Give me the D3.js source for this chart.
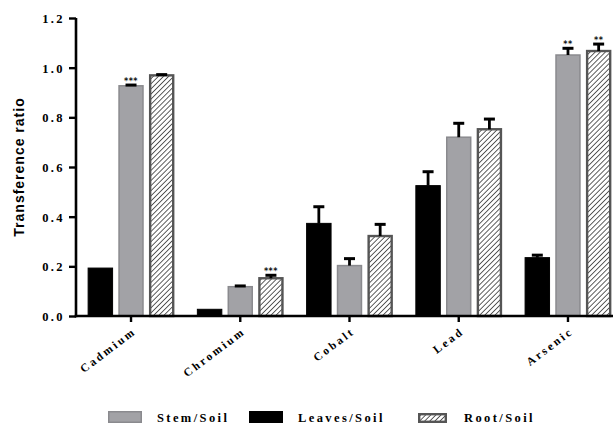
<!DOCTYPE html>
<html>
<head>
<meta charset="utf-8">
<script src="https://cdn.jsdelivr.net/npm/d3@7"></script>
<style>
  html, body { margin: 0; padding: 0; background: #fff; }
  svg { display: block; }
</style>
</head>
<body>
<svg id="chart" width="613" height="425"></svg>
<script>
// Transference ratios of metals (plant part / soil), mean with upward SEM
const categories = ["Cadmium", "Chromium", "Cobalt", "Lead", "Arsenic"];
const series = ["Leaves/Soil", "Stem/Soil", "Root/Soil"];
const legendOrder = ["Stem/Soil", "Leaves/Soil", "Root/Soil"];

const leavesValues = [0.193, 0.027, 0.373, 0.525, 0.235];
const stemValues   = [0.927, 0.118, 0.203, 0.720, 1.051];
const rootValues   = [0.969, 0.152, 0.322, 0.752, 1.067];

const leavesErrors = [0.000, 0.000, 0.067, 0.056, 0.010];
const stemErrors   = [0.003, 0.003, 0.028, 0.056, 0.027];
const rootErrors   = [0.003, 0.012, 0.047, 0.041, 0.028];

// significance marks per series, per category
const leavesStars = ["", "", "", "", ""];
const stemStars   = ["***", "", "", "", "**"];
const rootStars   = ["", "***", "", "", "**"];

const yTicks = [0, 0.2, 0.4, 0.6, 0.8, 1.0, 1.2];
const yTitle = "Transference ratio";

const valuesBySeries = {"Leaves/Soil": leavesValues, "Stem/Soil": stemValues, "Root/Soil": rootValues};
const errorsBySeries = {"Leaves/Soil": leavesErrors, "Stem/Soil": stemErrors, "Root/Soil": rootErrors};
const starsBySeries  = {"Leaves/Soil": leavesStars, "Stem/Soil": stemStars, "Root/Soil": rootStars};

const rows = [];
categories.forEach((c, i) => {
  series.forEach(s => {
    rows.push({cat: c, series: s, value: valuesBySeries[s][i], err: errorsBySeries[s][i], stars: starsBySeries[s][i]});
  });
});

const svg = d3.select("#chart");
const axisX0 = 76, axisY0 = 316;

const y = d3.scaleLinear().domain([0, 1.2]).range([axisY0, 18]);
const x = d3.scaleBand().domain(categories).range([axisX0 + 0.4, 622.6]).padding(0);
const xs = d3.scaleBand().domain(series).range([-46, 46]).paddingInner(0.17).paddingOuter(0.085);

// hatch pattern for the root series
const defs = svg.append("defs");
const pat = defs.append("pattern")
  .attr("id", "hatch")
  .attr("patternUnits", "userSpaceOnUse")
  .attr("width", 3.6).attr("height", 3.6)
  .attr("patternTransform", "rotate(45)");
pat.append("rect").attr("width", 3.6).attr("height", 3.6).attr("fill", "#fff");
pat.append("line").attr("x1", 0).attr("y1", 0).attr("x2", 0).attr("y2", 3.6)
  .attr("stroke", "#2a2a2a").attr("stroke-width", 1.5);

const styles = {
  "Leaves/Soil": {fill: "#000", stroke: "#000", sw: 1},
  "Stem/Soil":   {fill: "#a2a2a6", stroke: "#8a8a8e", sw: 1.5},
  "Root/Soil":   {fill: "url(#hatch)", stroke: "#555", sw: 2.4}
};

const serif = "'Liberation Serif', 'Times New Roman', serif";

// bars
const barW = xs.bandwidth();
const bars = svg.append("g");
bars.selectAll("rect").data(rows).join("rect")
  .attr("x", d => x(d.cat) + x.bandwidth() / 2 + xs(d.series) + styles[d.series].sw / 2)
  .attr("y", d => y(d.value))
  .attr("width", d => barW - styles[d.series].sw)
  .attr("height", d => y(0) - y(d.value))
  .attr("fill", d => styles[d.series].fill)
  .attr("stroke", d => styles[d.series].stroke)
  .attr("stroke-width", d => styles[d.series].sw);

// error bars (upper only)
const errG = svg.append("g").attr("stroke", "#000");
const withErr = rows.filter(d => d.err > 0);
const cx = d => x(d.cat) + x.bandwidth() / 2 + xs(d.series) + barW / 2;
errG.selectAll("line.v").data(withErr).join("line").attr("class", "v")
  .attr("x1", cx).attr("x2", cx)
  .attr("y1", d => y(d.value)).attr("y2", d => y(d.value + d.err))
  .attr("stroke-width", 2.8);
errG.selectAll("line.c").data(withErr).join("line").attr("class", "c")
  .attr("x1", d => cx(d) - 5.5).attr("x2", d => cx(d) + 5.5)
  .attr("y1", d => y(d.value + d.err)).attr("y2", d => y(d.value + d.err))
  .attr("stroke-width", 3);

// significance stars
svg.append("g").selectAll("text").data(rows.filter(d => d.stars)).join("text")
  .attr("x", cx)
  .attr("y", d => y(d.value + d.err) - 1.5)
  .attr("text-anchor", "middle")
  .attr("font-family", "DejaVu Sans, sans-serif")
  .attr("font-weight", "bold")
  .attr("font-size", 8)
  .attr("letter-spacing", 0.5)
  .attr("fill", "#111")
  .text(d => d.stars);

// y axis
const yAxis = d3.axisLeft(y).tickValues(yTicks).tickFormat(d3.format(".1f")).tickSize(7).tickPadding(4);
const gy = svg.append("g").attr("transform", `translate(${axisX0},0)`).call(yAxis);
gy.select(".domain").attr("stroke", "#000").attr("stroke-width", 2.6)
  .attr("d", `M0,${y(1.2)}V${axisY0 + 1.3}`);
gy.selectAll(".tick line").attr("stroke", "#000").attr("stroke-width", 2.4);
gy.selectAll(".tick text")
  .attr("font-family", serif).attr("font-weight", "bold").attr("font-size", 12.5)
  .attr("letter-spacing", 2.4).attr("fill", "#000").attr("dy", "0.36em");

// x axis
const xAxis = d3.axisBottom(x).tickSize(6).tickFormat("");
const gx = svg.append("g").attr("transform", `translate(0,${axisY0})`).call(xAxis);
gx.select(".domain").attr("stroke", "#000").attr("stroke-width", 2.6)
  .attr("d", `M${axisX0 - 1.3},0H613`);
gx.selectAll(".tick line").attr("stroke", "#000").attr("stroke-width", 2.4);

// rotated category labels
svg.append("g").selectAll("text").data(categories).join("text")
  .attr("transform", d => `translate(${x(d) + x.bandwidth() / 2 + 6},${axisY0 + 17}) rotate(-37)`)
  .attr("text-anchor", "end")
  .attr("font-family", serif).attr("font-weight", "bold").attr("font-size", 11.5)
  .attr("letter-spacing", 2.5).attr("fill", "#000")
  .text(d => d);

// y axis title
svg.append("text")
  .attr("transform", `translate(24,${(axisY0 + 18) / 2}) rotate(-90)`)
  .attr("text-anchor", "middle")
  .attr("font-family", "'Liberation Sans', Arial, sans-serif")
  .attr("font-weight", "bold").attr("font-size", 14)
  .attr("letter-spacing", 1)
  .attr("fill", "#000")
  .text(yTitle);

// legend
const legendPos = {
  "Stem/Soil":   {sx: 108, sw: 34, sh: 12, tx: 157},
  "Leaves/Soil": {sx: 249, sw: 34, sh: 12, tx: 298},
  "Root/Soil":   {sx: 418, sw: 29, sh: 10, tx: 464}
};
const lg = svg.append("g").selectAll("g").data(legendOrder).join("g");
lg.append("rect")
  .attr("x", d => legendPos[d].sx + styles[d].sw / 2)
  .attr("y", d => 423 - legendPos[d].sh + styles[d].sw / 2)
  .attr("width", d => legendPos[d].sw - styles[d].sw)
  .attr("height", d => legendPos[d].sh - styles[d].sw)
  .attr("fill", d => styles[d].fill)
  .attr("stroke", d => styles[d].stroke)
  .attr("stroke-width", d => styles[d].sw);
lg.append("text")
  .attr("x", d => legendPos[d].tx)
  .attr("y", 422)
  .attr("font-family", serif).attr("font-weight", "bold").attr("font-size", 12.5)
  .attr("letter-spacing", 2.4).attr("fill", "#000")
  .text(d => d);
</script>
</body>
</html>
